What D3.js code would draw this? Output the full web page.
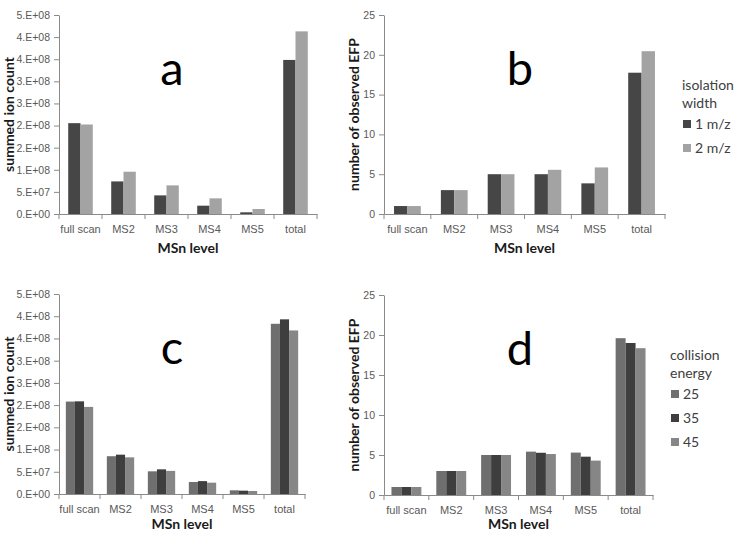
<!DOCTYPE html>
<html>
<head>
<meta charset="utf-8">
<script src="https://cdn.jsdelivr.net/npm/d3@7"></script>
<style>
  html, body { margin: 0; padding: 0; background: #fff; }
  svg { display: block; font-family: Lato, "Open Sans", sans-serif; }
</style>
</head>
<body>
<svg id="chart" width="734" height="534"></svg>
<script>
// ---------- data ----------
const categories = ["full scan", "MS2", "MS3", "MS4", "MS5", "total"];

const isoSeries = ["1 m/z", "2 m/z"];
const ionIso1 = [2.054e8, 7.37e7, 4.21e7, 1.88e7, 3.8e6, 3.484e8];
const ionIso2 = [2.024e8, 9.56e7, 6.47e7, 3.54e7, 1.13e7, 4.13e8];
const efpIso1 = [1, 3, 5, 5, 3.85, 17.75];
const efpIso2 = [1, 3, 5, 5.55, 5.85, 20.45];

const ceSeries = ["25", "35", "45"];
const ionCE25 = [2.08e8, 8.5e7, 5.1e7, 2.7e7, 8.3e6, 3.83e8];
const ionCE35 = [2.085e8, 8.85e7, 5.55e7, 2.9e7, 7.5e6, 3.93e8];
const ionCE45 = [1.96e8, 8.25e7, 5.2e7, 2.55e7, 6.8e6, 3.68e8];
const efpCE25 = [1, 3, 5, 5.42, 5.3, 19.6];
const efpCE35 = [1, 3, 5, 5.28, 4.79, 19.0];
const efpCE45 = [1, 3, 5, 5.12, 4.3, 18.35];

const ionTicks = [0, 5e7, 1e8, 1.5e8, 2e8, 2.5e8, 3e8, 3.5e8, 4e8, 4.5e8];
const efpTicks = [0, 5, 10, 15, 20, 25];

const isoColors = ["#464646", "#a3a3a3"];
const ceColors = ["#6f6f6f", "#3e3e3e", "#868686"];

// ---------- helpers ----------
function excelSci(v) {
  if (v === 0) return "0.E+00";
  let e = Math.floor(Math.log10(v));
  let m = Math.round(v / Math.pow(10, e));
  if (m >= 10) { m = 1; e += 1; }
  return m + ".E+" + String(e).padStart(2, "0");
}

const svg = d3.select("#chart");
const AXIS = "#8a8a8a";

function drawPanel(cfg) {
  const g = svg.append("g");
  const x = d3.scaleBand().domain(categories).range([cfg.x0, cfg.x1]).padding(0);
  const inner = d3.scaleBand().domain(cfg.series).range([0, x.bandwidth()])
    .paddingInner(0).paddingOuter(0.75);
  const y = d3.scaleLinear().domain([0, cfg.max]).range([cfg.y1, cfg.y0]);

  // bars
  cfg.series.forEach((s, si) => {
    g.append("g").selectAll("rect").data(cfg.values[si]).join("rect")
      .attr("x", (d, i) => x(categories[i]) + inner(s))
      .attr("y", d => y(d))
      .attr("width", inner.bandwidth())
      .attr("height", d => y(0) - y(d))
      .attr("fill", cfg.colors[si]);
  });

  // y axis
  const ya = g.append("g").attr("transform", `translate(${cfg.x0},0)`)
    .call(d3.axisLeft(y).tickValues(cfg.ticks).tickFormat(cfg.fmt)
      .tickSize(5).tickSizeOuter(0).tickPadding(4));
  ya.select(".domain").attr("stroke", AXIS);
  ya.selectAll(".tick line").attr("stroke", AXIS);
  ya.selectAll("text").attr("fill", "#595959").style("font-size", "10.5px");

  // x axis
  const xa = g.append("g").attr("transform", `translate(0,${cfg.y1})`)
    .call(d3.axisBottom(x).tickSize(0).tickSizeOuter(0).tickPadding(11));
  xa.select(".domain").attr("stroke", AXIS);
  xa.selectAll("text").attr("fill", "#595959").style("font-size", "11px");
  // category boundary ticks
  g.append("g").selectAll("line").data(categories.concat(["__end"])).join("line")
    .attr("x1", (d, i) => i < categories.length ? x(d) : cfg.x1)
    .attr("x2", (d, i) => i < categories.length ? x(d) : cfg.x1)
    .attr("y1", cfg.y1).attr("y2", cfg.y1 + 5)
    .attr("stroke", AXIS);

  // axis titles
  g.append("text")
    .attr("x", (cfg.x0 + cfg.x1) / 2).attr("y", cfg.y1 + cfg.titleOff)
    .attr("text-anchor", "middle").attr("font-weight", "bold")
    .attr("font-size", "14px").attr("fill", "#1a1a1a").text("MSn level");
  g.append("text")
    .attr("transform", `translate(${cfg.ylabX},${(cfg.y0 + cfg.y1) / 2}) rotate(-90)`)
    .attr("text-anchor", "middle").attr("dy", "0.35em").attr("font-weight", "bold")
    .attr("font-size", "14px").attr("fill", "#1a1a1a").text(cfg.ylab);

  // panel letter
  g.append("text")
    .attr("x", cfg.letterX).attr("y", cfg.y0 + 70)
    .attr("text-anchor", "middle").attr("font-size", "47px").attr("fill", "#000")
    .text(cfg.letter);

  // legend
  if (cfg.legendTitle) {
    const lg = g.append("g");
    cfg.legendTitle.forEach((t, i) => {
      lg.append("text").attr("x", cfg.legX).attr("y", cfg.legY + i * 18)
        .attr("dy", "0.35em").attr("font-size", "14px").attr("fill", "#404040").text(t);
    });
    cfg.series.forEach((s, i) => {
      const yy = cfg.legY + 39 + i * 24;
      lg.append("rect").attr("x", cfg.legX + 1).attr("y", yy - 4)
        .attr("width", 8).attr("height", 8).attr("fill", cfg.colors[i]);
      lg.append("text").attr("x", cfg.legX + 13).attr("y", yy)
        .attr("dy", "0.35em").attr("font-size", "14px").attr("fill", "#404040").text(s);
    });
  }
}

drawPanel({ letter: "a", letterX: 172, x0: 59, x1: 317, y0: 15, y1: 214, titleOff: 39,
  max: 4.5e8, ticks: ionTicks, fmt: excelSci, ylab: "summed ion count", ylabX: 9,
  series: isoSeries, colors: isoColors, values: [ionIso1, ionIso2] });

drawPanel({ letter: "b", letterX: 520, x0: 384, x1: 665, y0: 15, y1: 214, titleOff: 39,
  max: 25, ticks: efpTicks, fmt: d3.format("d"), ylab: "number of observed EFP", ylabX: 354,
  series: isoSeries, colors: isoColors, values: [efpIso1, efpIso2],
  legendTitle: ["isolation", "width"], legX: 682, legY: 85 });

drawPanel({ letter: "c", letterX: 172, x0: 59, x1: 305, y0: 294, y1: 494, titleOff: 35,
  max: 4.5e8, ticks: ionTicks, fmt: excelSci, ylab: "summed ion count", ylabX: 9,
  series: ceSeries, colors: ceColors, values: [ionCE25, ionCE35, ionCE45] });

drawPanel({ letter: "d", letterX: 520, x0: 384, x1: 653, y0: 295, y1: 495, titleOff: 34,
  max: 25, ticks: efpTicks, fmt: d3.format("d"), ylab: "number of observed EFP", ylabX: 354,
  series: ceSeries, colors: ceColors, values: [efpCE25, efpCE35, efpCE45],
  legendTitle: ["collision", "energy"], legX: 670, legY: 355 });
</script>
</body>
</html>
